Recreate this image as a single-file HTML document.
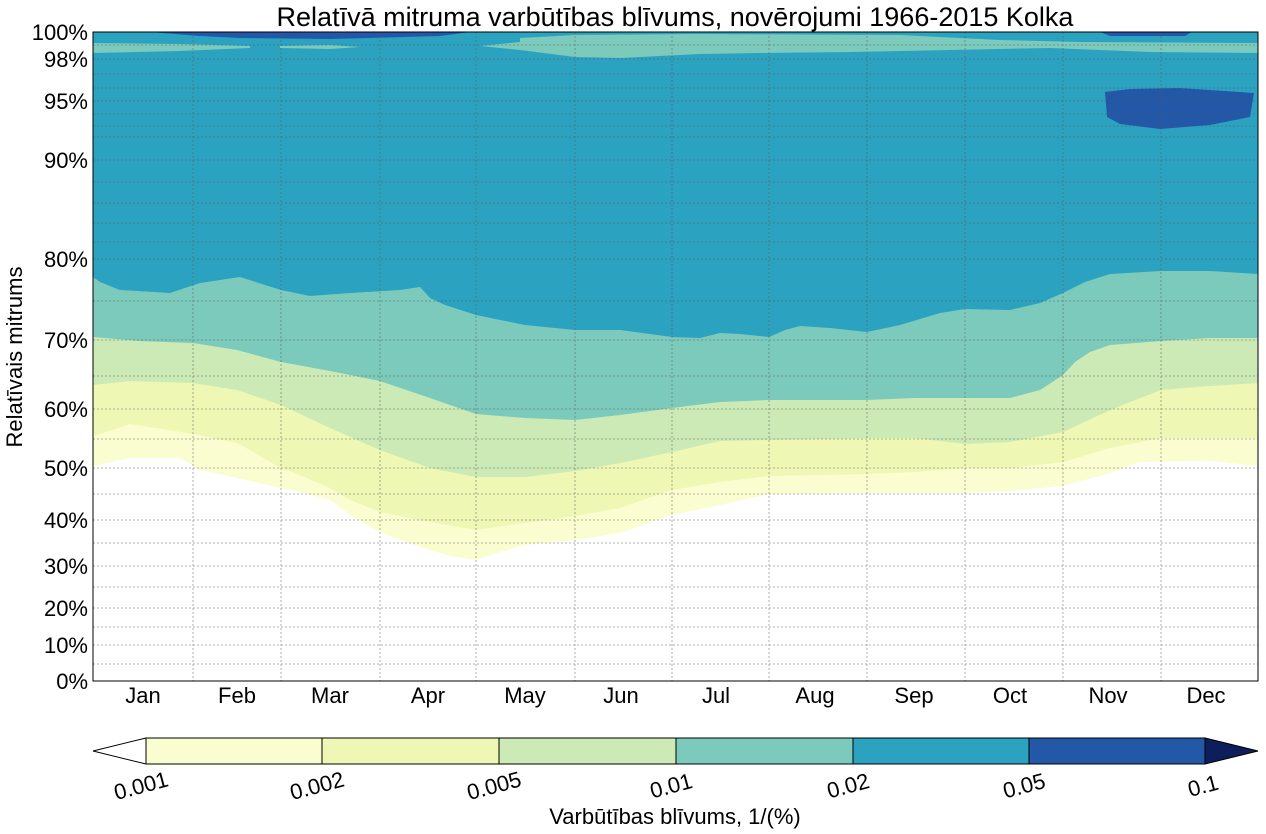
<!DOCTYPE html>
<html><head><meta charset="utf-8"><style>
body{margin:0;background:#fff;}
svg{display:block;font-family:"Liberation Sans",sans-serif;}
</style></head><body>
<svg width="1266" height="834" viewBox="0 0 1266 834">
<defs><clipPath id="c"><rect x="93" y="32" width="1165" height="649"/></clipPath></defs>
<g clip-path="url(#c)">
<rect x="93" y="32" width="1165" height="649" fill="#fff"/>
<path fill="#fafdcf" d="M93,32 L1258,32 L1258,466 L1210,461 L1140,462 L1110,473 L1063,486 L1010,491 L965,493 L915,493 L867,493 L769,494 L720,505 L672,515 L620,533 L575,540 L525,545 L500,552 L476,560 L450,556 L430,550 L400,540 L380,532 L350,515 L330,500 L300,492 L281,488 L237,478 L200,470 L180,458 L130,458 L93,466 Z"/>
<path fill="#eef7b3" d="M93,32 L1258,32 L1258,438 L1210,438 L1161,438 L1110,448 L1063,462 L1010,468 L965,468 L915,472 L867,474 L769,476 L720,482 L672,490 L620,508 L575,516 L525,523 L476,530 L430,522 L380,512 L350,500 L330,488 L300,475 L281,468 L250,450 L237,443 L193,434 L130,424 L93,436 Z"/>
<path fill="#cbeab5" d="M93,32 L1258,32 L1258,383 L1210,386 L1161,390 L1110,410 L1063,432 L1010,442 L965,444 L915,438 L867,438 L769,440 L720,441 L672,452 L620,463 L575,471 L525,477 L476,477 L430,468 L380,450 L330,428 L281,405 L237,390 L193,383 L130,381 L93,385 Z"/>
<path fill="#7bcabb" d="M93,32 L1258,32 L1258,338 L1210,338 L1161,341 L1110,345 L1090,352 L1075,362 L1063,375 L1040,390 L1010,398 L965,398 L915,398 L867,400 L769,400 L720,402 L672,408 L620,415 L575,420 L525,418 L476,414 L450,405 L430,398 L380,381 L330,371 L281,362 L237,350 L193,343 L140,341 L93,337 Z"/>
<path fill="#2ca2c1" d="M93,32 L1258,32 L1258,274 L1210,271 L1161,271 L1110,274 L1085,282 L1063,293 L1040,303 L1010,310 L965,309 L940,313 L900,325 L867,332 L830,328 L800,326 L785,330 L769,337 L740,334 L720,333 L700,338 L672,337 L620,330 L575,330 L525,325 L476,315 L445,305 L430,298 L420,287 L400,290 L350,293 L310,296 L281,290 L240,277 L200,283 L170,293 L120,290 L100,282 L93,277 Z"/>
<path fill="#7bcabb" d="M93,43 L180,44 L250,46 L250,48 L180,51 L93,53 Z"/>
<path fill="#7bcabb" d="M280,46 L330,45 L360,47 L330,49 L280,48 Z"/>
<path fill="#7bcabb" d="M520,38 L575,35 L700,34 L900,35 L1000,40 L1080,42 L1258,43 L1258,53 L1150,52 L1050,48 L950,50 L850,52 L760,53 L700,54 L620,58 L575,57 L520,50 L480,46 L520,42 Z"/>
<path fill="#2ca2c1" d="M93,32 L1258,32 L1258,36 L1000,36 L900,34 L700,33 L575,33 L93,34 Z"/>
<path fill="#2358a8" d="M150,32 L470,32 L440,36 L330,39 L240,38 L200,36 Z"/>
<path fill="#2358a8" d="M1100,32 L1192,32 L1185,36 L1110,36 Z"/>
<path fill="#2358a8" d="M1105,92 L1130,89 L1180,88 L1254,93 L1250,117 L1235,120 L1210,125 L1160,129 L1120,124 L1107,117 Z"/>
</g>
<g stroke="#555" stroke-width="0.8" stroke-dasharray="2,2" fill="none" opacity="0.6">
<path d="M193,32V681M281,32V681M380,32V681M476,32V681M575,32V681M672,32V681M769,32V681M867,32V681M965,32V681M1063,32V681M1161,32V681"/>
<path d="M93,45H1258M93,59H1258M93,74H1258M93,88H1258M93,101H1258M93,114H1258M93,126H1258M93,137H1258M93,160H1258M93,182H1258M93,203H1258M93,223H1258M93,242H1258M93,259H1258M93,301H1258M93,340H1258M93,376H1258M93,409H1258M93,439H1258M93,468H1258M93,494H1258M93,520H1258M93,543H1258M93,566H1258M93,587H1258M93,608H1258M93,627H1258M93,645H1258M93,664H1258"/>
</g>
<rect x="93" y="32" width="1165" height="649" fill="none" stroke="#000" stroke-width="1"/>
<g font-size="22" text-anchor="end" fill="#000">
<text x="88" y="40">100%</text><text x="88" y="67">98%</text><text x="88" y="109">95%</text>
<text x="88" y="168">90%</text><text x="88" y="267">80%</text><text x="88" y="348">70%</text>
<text x="88" y="417">60%</text><text x="88" y="476">50%</text><text x="88" y="528">40%</text>
<text x="88" y="574">30%</text><text x="88" y="616">20%</text><text x="88" y="653">10%</text>
<text x="88" y="689">0%</text>
</g>
<g font-size="22" text-anchor="middle">
<text x="143" y="703">Jan</text><text x="237" y="703">Feb</text><text x="330" y="703">Mar</text>
<text x="428" y="703">Apr</text><text x="525" y="703">May</text><text x="621" y="703">Jun</text>
<text x="716" y="703">Jul</text><text x="815" y="703">Aug</text><text x="914" y="703">Sep</text>
<text x="1010" y="703">Oct</text><text x="1108" y="703">Nov</text><text x="1206" y="703">Dec</text>
</g>
<text x="675" y="26" font-size="27" text-anchor="middle">Relatīvā mitruma varbūtības blīvums, novērojumi 1966-2015 Kolka</text>
<text transform="translate(22,357) rotate(-90)" font-size="22" text-anchor="middle">Relatīvais mitrums</text>
<g stroke="#000" stroke-width="1">
<path d="M146,738 L93,751 L146,764 Z" fill="#fff"/>
<rect x="146" y="738" width="176" height="26" fill="#fafdcf"/>
<rect x="322" y="738" width="177" height="26" fill="#eef7b3"/>
<rect x="499" y="738" width="177" height="26" fill="#cbeab5"/>
<rect x="676" y="738" width="177" height="26" fill="#7bcabb"/>
<rect x="853" y="738" width="176" height="26" fill="#2ca2c1"/>
<rect x="1029" y="738" width="176" height="26" fill="#2358a8"/>
<path d="M1205,738 L1258,751 L1205,764 Z" fill="#0c1f5c"/>
</g>
<g font-size="22" text-anchor="middle">
<text transform="translate(143,793) rotate(-15)">0.001</text>
<text transform="translate(319,793) rotate(-15)">0.002</text>
<text transform="translate(496,793) rotate(-15)">0.005</text>
<text transform="translate(673,793) rotate(-15)">0.01</text>
<text transform="translate(850,793) rotate(-15)">0.02</text>
<text transform="translate(1026,793) rotate(-15)">0.05</text>
<text transform="translate(1205,793) rotate(-15)">0.1</text>
</g>
<text x="675" y="824" font-size="22" text-anchor="middle">Varbūtības blīvums, 1/(%)</text>
</svg>
</body></html>
